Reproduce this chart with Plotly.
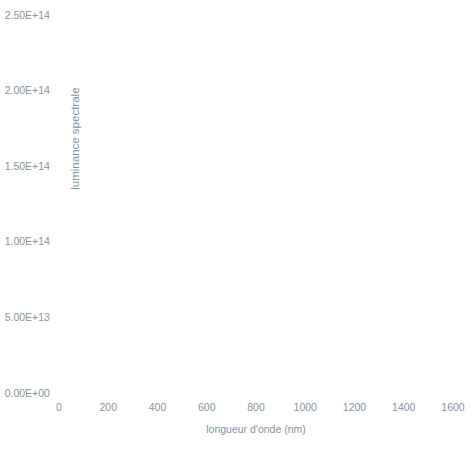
import plotly.graph_objects as go

# axis ticks
x_ticks = [0, 200, 400, 600, 800, 1000, 1200, 1400, 1600]
y_ticks = [0, 5e13, 1e14, 1.5e14, 2e14, 2.5e14]
y_tick_labels = ["0.00E+00", "5.00E+13", "1.00E+14", "1.50E+14", "2.00E+14", "2.50E+14"]

# no visible curve in the reference, only the empty frame
wavelength = []
radiance = []

font_color = "#8593a4"

fig = go.Figure()
fig.add_trace(go.Scatter(x=wavelength, y=radiance, mode="lines", showlegend=False))

fig.update_xaxes(
    range=[0, 1600],
    tickvals=x_ticks,
    showgrid=False,
    zeroline=False,
    showline=False,
    automargin=False,
    ticks="outside",
    ticklen=4,
    tickcolor="white",
    title=dict(text="longueur d'onde (nm)", standoff=14),
    tickfont=dict(size=10.5, color=font_color),
    title_font=dict(size=10.5, color=font_color),
)
fig.update_yaxes(
    range=[0, 2.5e14],
    tickvals=y_ticks,
    ticktext=y_tick_labels,
    showgrid=False,
    zeroline=False,
    showline=False,
    automargin=False,
    ticks="outside",
    ticklen=6,
    tickcolor="white",
    tickfont=dict(size=10.5, color=font_color),
)

fig.add_annotation(
    text="luminance spectrale",
    xref="paper",
    yref="paper",
    x=0.04,
    y=0.672,
    xanchor="center",
    yanchor="middle",
    showarrow=False,
    textangle=-90,
    font=dict(size=11.5, color=font_color),
)

fig.update_layout(
    width=472,
    height=454,
    margin=dict(l=59, r=19, t=15, b=61),
    plot_bgcolor="white",
    paper_bgcolor="white",
    font=dict(family="Liberation Sans"),
)

# drop the default page margin so the figure sits at the window's corner
fig.write_html(
    "out.html",
    config={"displayModeBar": False},
    post_script="document.body.style.margin = '0';",
)
